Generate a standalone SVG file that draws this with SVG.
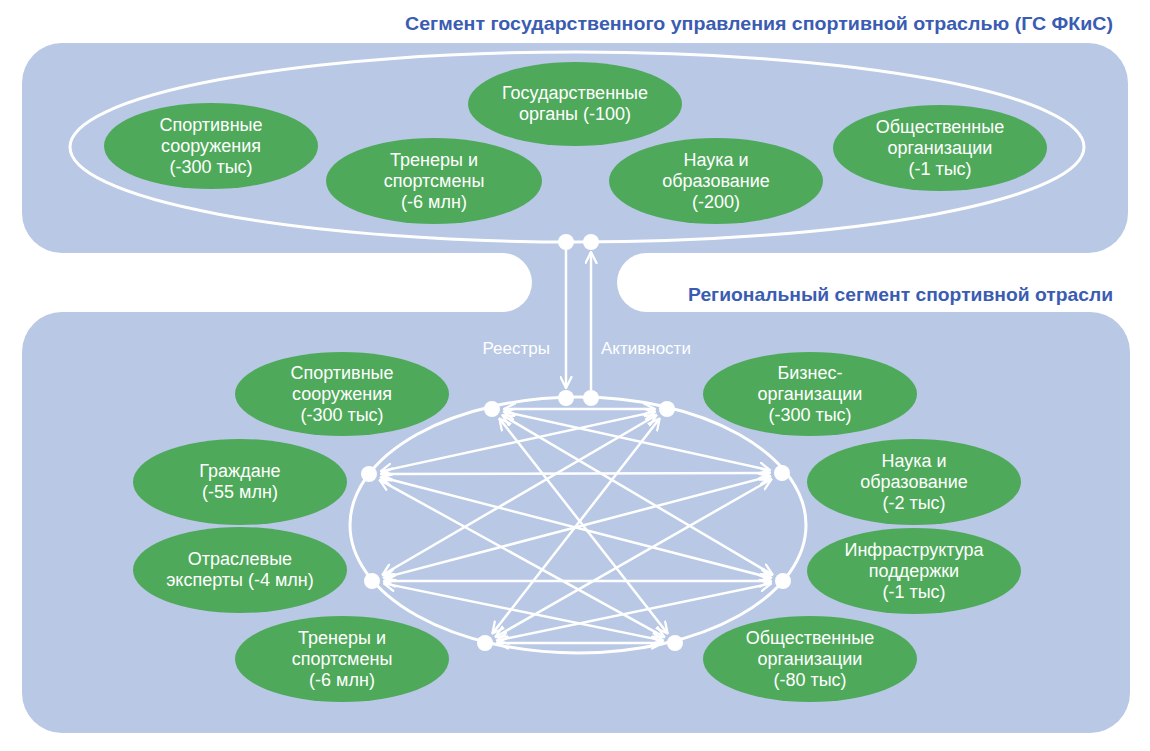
<svg xmlns="http://www.w3.org/2000/svg" width="1150" height="751" viewBox="0 0 1150 751">
<defs>
<style>
.panel{fill:#b8c8e5}
.node ellipse{fill:#4eaa5a}
.node text{fill:#ffffff;font-family:"Liberation Sans",Arial,sans-serif;font-size:18px;text-anchor:middle}
.title{fill:#3a5cb2;font-family:"Liberation Sans",Arial,sans-serif;font-size:18.5px;font-weight:bold;text-anchor:end}
.lbl{fill:#ffffff;font-family:"Liberation Sans",Arial,sans-serif;font-size:17px}
.edge{stroke:#ffffff;stroke-width:2.5;fill:none;marker-start:url(#chev);marker-end:url(#chev)}
.vline{stroke:#ffffff;stroke-width:2.5;fill:none;marker-end:url(#chev)}
.ring{fill:none;stroke:#ffffff;stroke-width:3}
.dot{fill:#ffffff}
</style>
<marker id="chev" viewBox="0 0 13 13" refX="12" refY="6.5" markerWidth="13" markerHeight="13" markerUnits="userSpaceOnUse" orient="auto-start-reverse">
<path d="M1,1 L12,6.5 L1,12" fill="none" stroke="#ffffff" stroke-width="2.3" stroke-linecap="round" stroke-linejoin="round"/>
</marker>
</defs>
<rect width="1150" height="751" fill="#ffffff"/>

<g id="background">
<rect class="panel" x="22" y="43" width="1106" height="210" rx="40"/>
<rect class="panel" x="22" y="312" width="1108" height="421" rx="40"/>
<rect class="panel" x="500" y="240" width="150" height="85"/>
<rect x="300" y="253" width="232" height="59" rx="29.5" fill="#ffffff"/>
<rect x="617" y="253" width="300" height="59" rx="29.5" fill="#ffffff"/>
</g>

<text class="title" x="1113" y="30" textLength="708" lengthAdjust="spacingAndGlyphs">Сегмент государственного управления спортивной отраслью (ГС ФКиС)</text>
<text class="title" x="1113" y="301" textLength="425" lengthAdjust="spacingAndGlyphs">Региональный сегмент спортивной отрасли</text>

<ellipse class="ring" cx="577" cy="147" rx="507" ry="95"/>
<ellipse class="ring" cx="578" cy="525" rx="228" ry="128"/>

<g id="top-sport" class="node"><ellipse cx="211" cy="146" rx="107" ry="43"/>
<text x="211" y="131">Спортивные</text><text x="211" y="152">сооружения</text><text x="211" y="173">(-300 тыс)</text></g>
<g id="top-gov" class="node"><ellipse cx="575" cy="104" rx="107" ry="42"/>
<text x="575" y="99">Государственные</text><text x="575" y="120">органы (-100)</text></g>
<g id="top-coach" class="node"><ellipse cx="434" cy="181" rx="108" ry="43"/>
<text x="434" y="166">Тренеры и</text><text x="434" y="187">спортсмены</text><text x="434" y="208">(-6 млн)</text></g>
<g id="top-sci" class="node"><ellipse cx="716" cy="181" rx="107" ry="43"/>
<text x="716" y="166">Наука и</text><text x="716" y="187">образование</text><text x="716" y="208">(-200)</text></g>
<g id="top-pub" class="node"><ellipse cx="940" cy="148" rx="107" ry="43"/>
<text x="940" y="133">Общественные</text><text x="940" y="154">организации</text><text x="940" y="175">(-1 тыс)</text></g>

<g id="reg-sport" class="node"><ellipse cx="342" cy="394" rx="107" ry="42"/>
<text x="342" y="379">Спортивные</text><text x="342" y="400">сооружения</text><text x="342" y="421">(-300 тыс)</text></g>
<g id="reg-citizens" class="node"><ellipse cx="240" cy="482" rx="107" ry="43"/>
<text x="240" y="477">Граждане</text><text x="240" y="498">(-55 млн)</text></g>
<g id="reg-experts" class="node"><ellipse cx="240" cy="570" rx="107" ry="43"/>
<text x="240" y="565">Отраслевые</text><text x="240" y="586">эксперты (-4 млн)</text></g>
<g id="reg-coach" class="node"><ellipse cx="342" cy="659" rx="107" ry="43"/>
<text x="342" y="644">Тренеры и</text><text x="342" y="665">спортсмены</text><text x="342" y="686">(-6 млн)</text></g>
<g id="reg-business" class="node"><ellipse cx="810" cy="394" rx="107" ry="42"/>
<text x="810" y="379">Бизнес-</text><text x="810" y="400">организации</text><text x="810" y="421">(-300 тыс)</text></g>
<g id="reg-sci" class="node"><ellipse cx="914" cy="482" rx="107" ry="43"/>
<text x="914" y="467">Наука и</text><text x="914" y="488">образование</text><text x="914" y="509">(-2 тыс)</text></g>
<g id="reg-infra" class="node"><ellipse cx="914" cy="571" rx="107" ry="43"/>
<text x="914" y="556">Инфраструктура</text><text x="914" y="577">поддержки</text><text x="914" y="598">(-1 тыс)</text></g>
<g id="reg-pub" class="node"><ellipse cx="810" cy="659" rx="107" ry="43"/>
<text x="810" y="644">Общественные</text><text x="810" y="665">организации</text><text x="810" y="686">(-80 тыс)</text></g>

<g id="connectors">
<line class="vline" x1="566" y1="250" x2="566" y2="388"/>
<line class="vline" x1="591" y1="390" x2="591" y2="252"/>
<line class="edge" x1="504" y1="409" x2="655" y2="409"/>
<line class="edge" x1="503.7" y1="411.6" x2="770.3" y2="470.4"/>
<line class="edge" x1="502.3" y1="415.1" x2="772.7" y2="574.9"/>
<line class="edge" x1="499.4" y1="418.5" x2="667.6" y2="633.5"/>
<line class="edge" x1="380.7" y1="471.4" x2="655.3" y2="411.6"/>
<line class="edge" x1="381" y1="474" x2="770" y2="473"/>
<line class="edge" x1="380.6" y1="477" x2="771.4" y2="578"/>
<line class="edge" x1="379.5" y1="479.8" x2="664.5" y2="637.2"/>
<line class="edge" x1="382.4" y1="575" x2="656.6" y2="415"/>
<line class="edge" x1="383.6" y1="577.9" x2="770.4" y2="476.1"/>
<line class="edge" x1="384" y1="581" x2="771" y2="581"/>
<line class="edge" x1="383.8" y1="583.4" x2="663.2" y2="640.6"/>
<line class="edge" x1="492.4" y1="633.5" x2="659.6" y2="418.5"/>
<line class="edge" x1="495.4" y1="637" x2="771.6" y2="479"/>
<line class="edge" x1="496.7" y1="640.6" x2="771.3" y2="583.4"/>
<line class="edge" x1="497" y1="643" x2="663" y2="643"/>
</g>

<g id="dots">
<circle class="dot" cx="566" cy="242" r="8"/>
<circle class="dot" cx="591" cy="242" r="8"/>
<circle class="dot" cx="566" cy="398" r="8"/>
<circle class="dot" cx="591" cy="398" r="8"/>
<circle class="dot" cx="492" cy="409" r="8"/>
<circle class="dot" cx="667" cy="409" r="8"/>
<circle class="dot" cx="369" cy="474" r="8"/>
<circle class="dot" cx="782" cy="473" r="8"/>
<circle class="dot" cx="372" cy="581" r="8"/>
<circle class="dot" cx="783" cy="581" r="8"/>
<circle class="dot" cx="485" cy="643" r="8"/>
<circle class="dot" cx="675" cy="643" r="8"/>
</g>

<text class="lbl" x="550" y="354" text-anchor="end">Реестры</text>
<text class="lbl" x="601" y="354">Активности</text>
</svg>
